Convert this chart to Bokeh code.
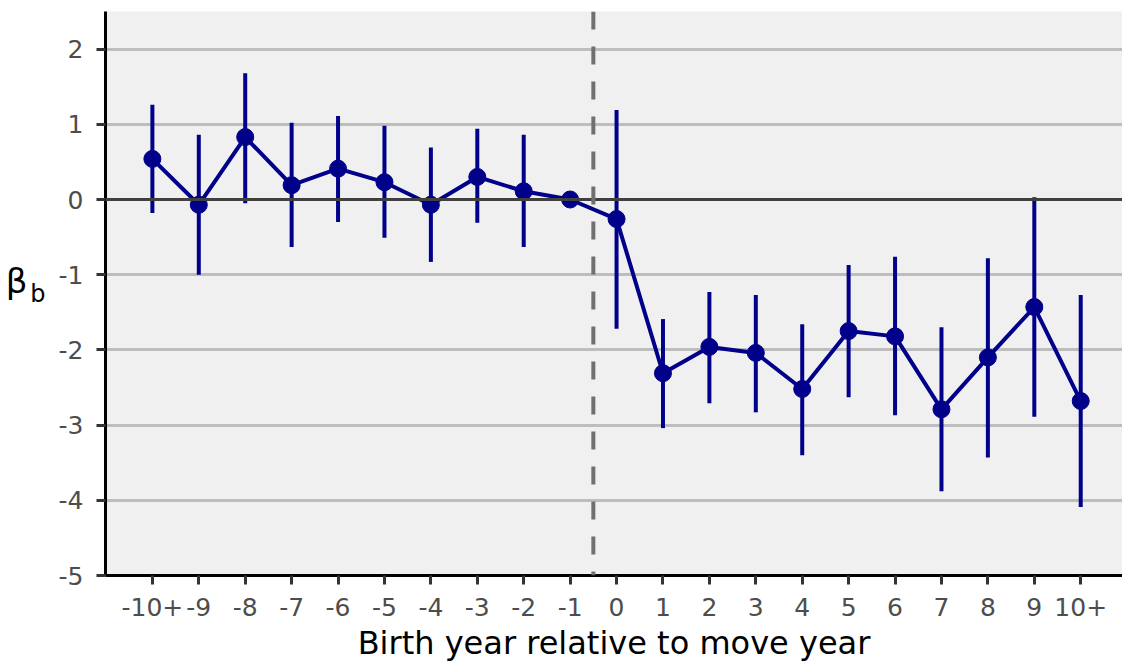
from bokeh.plotting import figure
from bokeh.models import Range1d, FixedTicker, Span, LinearAxis, ColumnDataSource
from bokeh.embed import file_html
from bokeh.resources import INLINE

labels = ["-10+", "-9", "-8", "-7", "-6", "-5", "-4", "-3", "-2", "-1", "0",
          "1", "2", "3", "4", "5", "6", "7", "8", "9", "10+"]
beta = [0.54, -0.07, 0.83, 0.19, 0.41, 0.23, -0.07, 0.30, 0.11, 0.0, -0.26,
        -2.31, -1.96, -2.04, -2.52, -1.75, -1.82, -2.79, -2.10, -1.43, -2.68]
ci_low = [-0.18, -1.00, -0.05, -0.63, -0.30, -0.51, -0.83, -0.31, -0.63, 0.0, -1.72,
          -3.04, -2.71, -2.83, -3.40, -2.63, -2.87, -3.88, -3.43, -2.89, -4.09]
ci_high = [1.26, 0.86, 1.68, 1.02, 1.11, 0.98, 0.69, 0.94, 0.86, 0.0, 1.19,
           -1.59, -1.23, -1.27, -1.66, -0.87, -0.76, -1.70, -0.78, 0.03, -1.27]
y_ticks = [-5, -4, -3, -2, -1, 0, 1, 2]
y_tick_labels = ["-5", "-4", "-3", "-2", "-1", "0", "1", "2"]

FONT = "DejaVu Sans"
NAVY = "#00008B"

xs = list(range(len(labels)))
src = ColumnDataSource(dict(x=xs, y=beta, lo=ci_low, hi=ci_high))

p = figure(width=1122, height=667, output_backend="svg", toolbar_location=None,
           x_range=Range1d(-1.01, 20.9), y_range=Range1d(-5, 2.5))
p.min_border_left = 105
p.min_border_right = 0
p.min_border_top = 11
p.min_border_bottom = 92
p.background_fill_color = "#f0f0f0"
p.border_fill_color = "white"
p.outline_line_color = None

p.xgrid.grid_line_color = None
p.ygrid.grid_line_color = "#bdbdbd"
p.ygrid.grid_line_width = 3
p.ygrid.ticker = FixedTicker(ticks=y_ticks)

p.xaxis.ticker = FixedTicker(ticks=xs)
p.xaxis.major_label_overrides = {i: l for i, l in enumerate(labels)}
p.yaxis.ticker = FixedTicker(ticks=y_ticks)
p.yaxis.major_label_overrides = {t: l for t, l in zip(y_ticks, y_tick_labels)}

for ax in (p.xaxis[0], p.yaxis[0]):
    ax.axis_line_color = "black"
    ax.axis_line_width = 3
    ax.major_tick_line_color = "#333333"
    ax.major_tick_line_width = 3
    ax.major_tick_out = 9
    ax.major_tick_in = 0
    ax.minor_tick_line_color = None
    ax.major_label_text_font = FONT
    ax.major_label_text_font_size = "25px"
    ax.major_label_text_color = "#4d4d4d"

p.yaxis.major_label_standoff = 13
p.xaxis.major_label_standoff = 13
p.xaxis.axis_label = "Birth year relative to move year"
p.xaxis.axis_label_text_font = FONT
p.xaxis.axis_label_text_font_size = "32px"
p.xaxis.axis_label_text_font_style = "normal"
p.xaxis.axis_label_text_color = "black"
p.xaxis.axis_label_standoff = 5

# y label: "β" with subscript "b"
p.yaxis.axis_label = "b"
p.yaxis.axis_label_orientation = "horizontal"
p.yaxis.axis_label_text_font = FONT
p.yaxis.axis_label_text_font_size = "24px"
p.yaxis.axis_label_text_font_style = "normal"
p.yaxis.axis_label_text_color = "black"
p.yaxis.axis_label_standoff = 10

outer = LinearAxis(ticker=FixedTicker(ticks=[]), axis_line_color=None,
                   major_tick_line_color=None, minor_tick_line_color=None,
                   axis_label="β\n ", axis_label_orientation="horizontal",
                   axis_label_text_font=FONT, axis_label_text_font_size="34px",
                   axis_label_text_font_style="normal", axis_label_text_color="black",
                   axis_label_text_line_height=0.65,
                   axis_label_standoff=0, major_label_text_font_size="0px")
p.add_layout(outer, "left")

p.add_layout(Span(location=0, dimension="width", line_color="#404040", line_width=3))
p.add_layout(Span(location=9.5, dimension="height", line_color="#707070",
                  line_width=4, line_dash="18 17"))

p.line("x", "y", source=src, line_color=NAVY, line_width=4)
p.segment(x0="x", y0="lo", x1="x", y1="hi", source=src, line_color=NAVY, line_width=4)
p.scatter("x", "y", source=src, size=17, fill_color=NAVY, line_color=NAVY)

open("out.html", "w").write(file_html(p, INLINE))
